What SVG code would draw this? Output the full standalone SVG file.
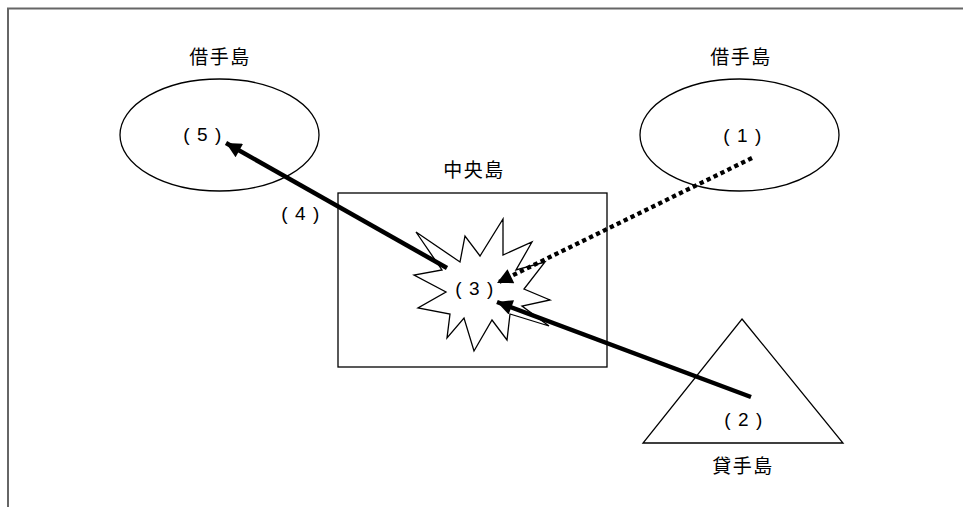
<svg xmlns="http://www.w3.org/2000/svg" width="963" height="507" viewBox="0 0 963 507">
<defs>
<style>
.t{font-family:"Liberation Sans","Noto Sans CJK JP",sans-serif;font-size:19px;fill:#000;text-anchor:middle;letter-spacing:1.5px}
.n{font-family:"Liberation Sans","Noto Sans CJK JP",sans-serif;font-size:19px;fill:#000;text-anchor:middle;letter-spacing:7.5px}
.s{fill:#fff;stroke:#000;stroke-width:1.3}
.c{fill:none;stroke:#000;stroke-width:4.5}
.d{fill:none;stroke:#000;stroke-width:4.3;stroke-dasharray:4.3 3.4}
</style>
<marker id="ah" viewBox="0 0 10 10" refX="10" refY="5" markerWidth="4" markerHeight="3.4" orient="auto" markerUnits="strokeWidth">
<path d="M0,0 L10,5 L0,10 z" fill="#000"/>
</marker>
<marker id="ahd" viewBox="0 0 10 10" refX="10" refY="5" markerWidth="4.2" markerHeight="3.6" orient="auto" markerUnits="strokeWidth">
<path d="M0,0 L10,5 L0,10 z" fill="#000"/>
</marker>
</defs>
<rect width="963" height="507" fill="#fff"/>
<path d="M8,507 V8.5 H963" fill="none" stroke="#666" stroke-width="2"/>
<g id="borrower-left">
<ellipse class="s" cx="219.5" cy="135" rx="99.5" ry="56"/>
<text class="t" x="220" y="64">借手島</text>
<text class="n" x="206" y="141">(5)</text>
</g>
<g id="borrower-right">
<ellipse class="s" cx="739.5" cy="135" rx="99.5" ry="56"/>
<text class="t" x="741" y="64">借手島</text>
<text class="n" x="746" y="142">(1)</text>
</g>
<g id="central">
<rect class="s" x="338" y="193" width="269" height="174"/>
<text class="t" x="474" y="177">中央島</text>
<polygon class="s" points="416,232 460,262 465,236 480,256 503,219 503,255 532,242 516,270 545,262 524,289 550,300 522,306 549,326 510,314 507,340 492,320 474,351 464,318 447,338 450,314 418,308 446,292 414,275 442,270"/>
<text class="n" x="478" y="295">(3)</text>
</g>
<g id="lender">
<polygon class="s" points="742,319 843,443 643,443"/>
<text class="n" x="747" y="426">(2)</text>
<text class="t" x="743" y="473">貸手島</text>
</g>
<g id="connectors">
<text class="n" x="304" y="220">(4)</text>
<line class="c" x1="447" y1="268" x2="226" y2="143" marker-end="url(#ah)"/>
<line class="d" x1="752" y1="158" x2="497" y2="283" marker-end="url(#ahd)"/>
<line class="c" x1="751" y1="397" x2="497" y2="302" marker-end="url(#ah)"/>
</g>
</svg>
